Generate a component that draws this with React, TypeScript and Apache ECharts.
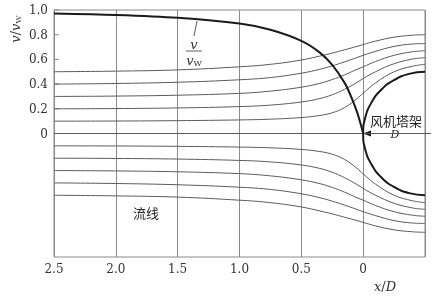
import React, { useEffect, useRef } from "react";
import * as echarts from "echarts";

// sample positions along x/D (axis runs from 2.5 on the left to -0.5 on the right)
const STREAM_X = [2.5, 2.0, 1.5, 1.0, 0.75, 0.5, 0.35, 0.25, 0.15, 0.05, 0, -0.1, -0.25, -0.4, -0.5];

// streamlines above the centre line (y values read at STREAM_X)
const UP_05 = [0.5, 0.505, 0.515, 0.54, 0.56, 0.595, 0.627, 0.651, 0.678, 0.705, 0.72, 0.748, 0.78, 0.796, 0.8];
const UP_04 = [0.4, 0.405, 0.415, 0.435, 0.453, 0.488, 0.52, 0.548, 0.58, 0.615, 0.633, 0.665, 0.705, 0.725, 0.728];
const UP_03 = [0.3, 0.303, 0.31, 0.325, 0.343, 0.375, 0.406, 0.437, 0.475, 0.52, 0.54, 0.583, 0.633, 0.662, 0.67];
const UP_02 = [0.2, 0.202, 0.207, 0.218, 0.23, 0.255, 0.283, 0.314, 0.358, 0.413, 0.445, 0.5, 0.565, 0.603, 0.614];
const UP_01 = [0.1, 0.101, 0.104, 0.11, 0.116, 0.129, 0.146, 0.168, 0.21, 0.282, 0.327, 0.41, 0.5, 0.545, 0.56];

// streamlines below the centre line
const LO_01 = [-0.1, -0.101, -0.104, -0.11, -0.116, -0.129, -0.146, -0.168, -0.21, -0.282, -0.327, -0.41, -0.5, -0.545, -0.56];
const LO_02 = [-0.2, -0.202, -0.207, -0.218, -0.23, -0.255, -0.283, -0.314, -0.358, -0.413, -0.445, -0.5, -0.565, -0.603, -0.614];
const LO_03 = [-0.3, -0.303, -0.31, -0.325, -0.343, -0.375, -0.406, -0.437, -0.475, -0.52, -0.54, -0.583, -0.633, -0.662, -0.67];
const LO_04 = [-0.4, -0.405, -0.415, -0.435, -0.453, -0.488, -0.52, -0.548, -0.58, -0.615, -0.633, -0.665, -0.705, -0.725, -0.728];
const LO_05 = [-0.5, -0.505, -0.515, -0.54, -0.56, -0.595, -0.627, -0.651, -0.678, -0.705, -0.72, -0.748, -0.78, -0.796, -0.8];

// centre (stagnation) streamline
const CENTER_X = [2.5, -0.5];
const CENTER_Y = [0, 0];

// velocity ratio v/vW along the centre line
const VEL_X = [2.5, 2.0, 1.5, 1.0, 0.75, 0.5, 0.35, 0.25, 0.15, 0.1, 0.05, 0.02, 0];
const VEL_Y = [0.972, 0.96, 0.937, 0.89, 0.84, 0.75, 0.655, 0.555, 0.41, 0.305, 0.175, 0.075, 0];

// tower outline (half circle, diameter D)
const TOWER_X = [-0.5, -0.371, -0.25, -0.146, -0.067, -0.017, 0, -0.017, -0.067, -0.146, -0.25, -0.371, -0.5];
const TOWER_Y = [0.5, 0.483, 0.433, 0.354, 0.25, 0.129, 0, -0.129, -0.25, -0.354, -0.433, -0.483, -0.5];

const X_TICKS = [2.5, 2.0, 1.5, 1.0, 0.5, 0];
const Y_TICKS = [0, 0.2, 0.4, 0.6, 0.8, 1.0];

const zip = (xs: number[], ys: number[]) => xs.map((x, i) => [x, ys[i]]);
const fmt = (v: number) => (v === 0 ? "0" : v.toFixed(1));

const SERIF = "'DejaVu Serif', 'Liberation Serif', serif";
const CJK = "'Noto Sans CJK SC', sans-serif";

export default function App() {
  const ref = useRef<HTMLDivElement>(null);
  useEffect(() => {
    if (!ref.current) return;
    const chart = echarts.init(ref.current, null, { renderer: "svg" });
    const thin = (name: string, ys: number[]) => ({
      name,
      type: "line",
      data: zip(STREAM_X, ys),
      smooth: 0.4,
      showSymbol: false,
      silent: true,
      lineStyle: { color: "#5a5a5a", width: 1 },
    });
    chart.setOption({
      animation: false,
      grid: { left: 54, top: 10, width: 371, height: 247, show: true, borderColor: "#8a8a8a", borderWidth: 1 },
      xAxis: {
        type: "value",
        inverse: true,
        min: -0.5,
        max: 2.5,
        interval: 0.5,
        axisLine: { show: false },
        axisTick: { show: false },
        splitLine: { show: true, lineStyle: { color: "#8a8a8a", width: 1 } },
        axisLabel: {
          customValues: X_TICKS,
          formatter: fmt,
          fontFamily: SERIF,
          fontSize: 12,
          color: "#333",
          margin: 6,
        },
      },
      yAxis: {
        type: "value",
        min: -1,
        max: 1,
        interval: 0.2,
        axisLine: { show: false },
        axisTick: { show: false },
        splitLine: { show: false },
        axisLabel: {
          customValues: Y_TICKS,
          formatter: fmt,
          fontFamily: SERIF,
          fontSize: 12,
          color: "#333",
          margin: 6,
        },
      },
      series: [
        thin("s+0.5", UP_05),
        thin("s+0.4", UP_04),
        thin("s+0.3", UP_03),
        thin("s+0.2", UP_02),
        thin("s+0.1", UP_01),
        thin("s-0.1", LO_01),
        thin("s-0.2", LO_02),
        thin("s-0.3", LO_03),
        thin("s-0.4", LO_04),
        thin("s-0.5", LO_05),
        {
          name: "centre",
          type: "line",
          data: zip(CENTER_X, CENTER_Y),
          showSymbol: false,
          lineStyle: { color: "#5a5a5a", width: 1 },
        },
        {
          name: "v/vW",
          type: "line",
          data: zip(VEL_X, VEL_Y),
          smooth: 0.3,
          showSymbol: false,
          lineStyle: { color: "#1a1a1a", width: 2 },
        },
        {
          name: "tower",
          type: "line",
          data: zip(TOWER_X, TOWER_Y),
          smooth: 0.5,
          showSymbol: false,
          lineStyle: { color: "#1a1a1a", width: 2 },
        },
      ],
    });

    // inside tick marks on the y axis, placed through the axis scale
    const x0 = chart.convertToPixel({ xAxisIndex: 0 }, 2.5) as number;
    const tickMarks = Y_TICKS.map((v) => {
      const py = chart.convertToPixel({ yAxisIndex: 0 }, v) as number;
      return { type: "line", shape: { x1: x0, y1: py, x2: x0 + 5, y2: py }, style: { stroke: "#8a8a8a", lineWidth: 1 } };
    });

    chart.setOption({
      graphic: [
        ...tickMarks,
        {
          type: "text",
          x: 15,
          y: 29,
          rotation: Math.PI / 2,
          style: {
            text: "{i|v}{n|/}{i|v}{s|W}",
            align: "center",
            verticalAlign: "middle",
            rich: {
              i: { fontFamily: SERIF, fontStyle: "italic", fontSize: 13, fill: "#333" },
              n: { fontFamily: SERIF, fontSize: 13, fill: "#333" },
              s: { fontFamily: SERIF, fontSize: 8, fill: "#333", padding: [6, 0, 0, 0] },
            },
          },
        },
        {
          type: "text",
          x: 385,
          y: 286,
          style: {
            text: "{i|x}{n|/}{i|D}",
            align: "center",
            verticalAlign: "middle",
            rich: {
              i: { fontFamily: SERIF, fontStyle: "italic", fontSize: 13, fill: "#333" },
              n: { fontFamily: SERIF, fontSize: 13, fill: "#333" },
            },
          },
        },
        // v / vW fraction label with leader
        { type: "line", shape: { x1: 197, y1: 21, x2: 194, y2: 36 }, style: { stroke: "#333", lineWidth: 0.8 } },
        {
          type: "text",
          x: 194,
          y: 44,
          style: { text: "v", font: `italic 13px ${SERIF}`, fill: "#333", align: "center", verticalAlign: "middle" },
        },
        { type: "line", shape: { x1: 186, y1: 51, x2: 202, y2: 51 }, style: { stroke: "#333", lineWidth: 0.8 } },
        {
          type: "text",
          x: 194,
          y: 60,
          style: {
            text: "{i|v}{s|W}",
            align: "center",
            verticalAlign: "middle",
            rich: {
              i: { fontFamily: SERIF, fontStyle: "italic", fontSize: 13, fill: "#333" },
              s: { fontFamily: SERIF, fontSize: 8, fill: "#333", padding: [6, 0, 0, 0] },
            },
          },
        },
        {
          type: "text",
          x: 146,
          y: 212,
          style: { text: "流线", font: `13px ${CJK}`, fill: "#222", align: "center", verticalAlign: "middle" },
        },
        {
          type: "text",
          x: 396,
          y: 120,
          style: { text: "风机塔架", font: `13px ${CJK}`, fill: "#222", align: "center", verticalAlign: "middle" },
        },
        // centre line beyond the frame, D label and arrow head
        { type: "line", shape: { x1: 425, y1: 133.5, x2: 431, y2: 133.5 }, style: { stroke: "#5a5a5a", lineWidth: 1 } },
        { type: "rect", shape: { x: 390, y: 129, width: 11, height: 10 }, style: { fill: "#fff" } },
        {
          type: "text",
          x: 395,
          y: 134.5,
          style: { text: "D", font: `italic 11px ${SERIF}`, fill: "#222", align: "center", verticalAlign: "middle" },
        },
        {
          type: "polygon",
          shape: { points: [[363, 133.5], [371, 130.5], [371, 136.5]] },
          style: { fill: "#111" },
        },
      ],
    });
    return () => chart.dispose();
  }, []);
  return <div ref={ref} style={{ position: "fixed", left: 0, top: 0, width: 441, height: 299 }} />;
}
